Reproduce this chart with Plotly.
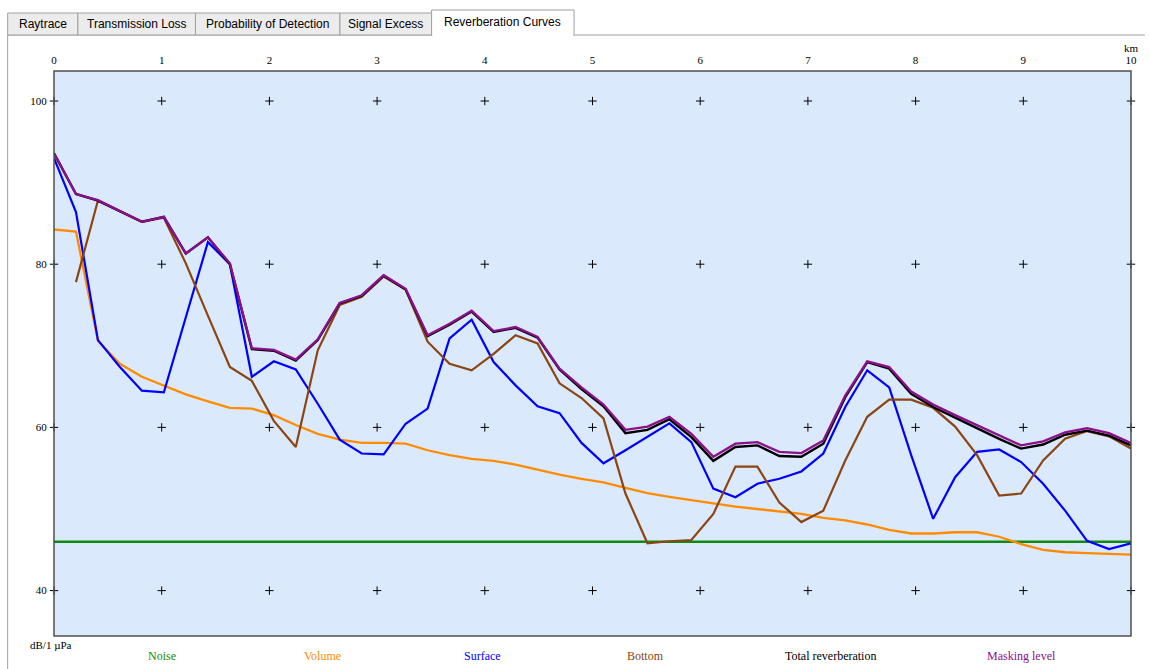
import plotly.graph_objects as go

# ---- data ----
range_km = [0.000, 0.204, 0.408, 0.612, 0.816, 1.020, 1.224, 1.429, 1.633, 1.837,
            2.041, 2.245, 2.449, 2.653, 2.857, 3.061, 3.265, 3.469, 3.673, 3.878,
            4.082, 4.286, 4.490, 4.694, 4.898, 5.102, 5.306, 5.510, 5.714, 5.918,
            6.122, 6.327, 6.531, 6.735, 6.939, 7.143, 7.347, 7.551, 7.755, 7.959,
            8.163, 8.367, 8.571, 8.776, 8.980, 9.184, 9.388, 9.592, 9.796, 10.000]

noise_km = [0.0, 10.0]
noise_db = [46.0, 46.0]

volume_db = [84.25, 84.0, 70.6, 67.8, 66.2, 65.1, 64.05, 63.2, 62.4, 62.3,
             61.5, 60.3, 59.2, 58.5, 58.1, 58.1, 58.0, 57.2, 56.6, 56.15,
             55.9, 55.45, 54.8, 54.2, 53.7, 53.25, 52.6, 51.95, 51.5, 51.1,
             50.7, 50.3, 50.0, 49.7, 49.4, 48.9, 48.6, 48.1, 47.45, 47.0,
             47.0, 47.15, 47.15, 46.6, 45.7, 45.0, 44.7, 44.6, 44.5, 44.4]

surface_db = [93.0, 86.4, 70.7, 67.4, 64.5, 64.3, 73.5, 82.7, 80.0, 66.2,
              68.1, 67.1, 62.9, 58.5, 56.8, 56.7, 60.45, 62.3, 70.9, 73.2,
              68.0, 65.15, 62.6, 61.75, 58.1, 55.6, 57.2, 58.8, 60.5, 58.2,
              52.5, 51.45, 53.1, 53.7, 54.6, 56.8, 62.5, 67.0, 64.9, 56.6,
              48.8, 53.9, 57.0, 57.3, 55.75, 53.1, 49.8, 46.1, 45.1, 45.8]

bottom_db = [None, 77.8, 87.8, 86.5, 85.2, 85.7, 80.1, 73.7, 67.4, 65.7,
             60.8, 57.6, 69.45, 75.0, 76.0, 78.5, 76.9, 70.5, 67.8, 67.0,
             69.0, 71.3, 70.3, 65.4, 63.6, 61.1, 51.9, 45.8, 46.05, 46.2,
             49.4, 55.2, 55.2, 50.8, 48.4, 49.8, 55.95, 61.3, 63.4, 63.4,
             62.4, 60.1, 56.6, 51.65, 51.9, 55.95, 58.6, 59.55, 58.9, 57.4]

total_db = [93.6, 88.6, 87.8, 86.5, 85.2, 85.8, 81.3, 83.3, 80.0, 69.6,
            69.4, 68.2, 70.7, 75.2, 76.1, 78.6, 76.9, 71.2, 72.6, 74.2,
            71.7, 72.2, 71.0, 67.1, 64.7, 62.6, 59.3, 59.7, 61.0, 58.8,
            55.9, 57.6, 57.8, 56.5, 56.4, 58.0, 63.7, 68.0, 67.2, 64.1,
            62.5, 61.2, 59.9, 58.6, 57.4, 57.9, 59.1, 59.6, 59.0, 57.8]

masking_db = [93.6, 88.6, 87.85, 86.5, 85.2, 85.8, 81.3, 83.3, 80.1, 69.7,
              69.5, 68.3, 70.8, 75.25, 76.2, 78.65, 77.0, 71.3, 72.7, 74.3,
              71.8, 72.3, 71.1, 67.2, 64.9, 62.8, 59.7, 60.1, 61.3, 59.2,
              56.4, 58.0, 58.2, 57.0, 56.85, 58.4, 63.9, 68.1, 67.4, 64.4,
              62.8, 61.5, 60.25, 59.0, 57.8, 58.3, 59.4, 59.9, 59.3, 58.1]

x_ticks = [0, 1, 2, 3, 4, 5, 6, 7, 8, 9, 10]
x_tick_labels = ["0", "1", "2", "3", "4", "5", "6", "7", "8", "9", "10"]
y_ticks = [40, 60, 80, 100]
y_tick_labels = ["40", "60", "80", "100"]

tab_labels = ["Raytrace", "Transmission Loss", "Probability of Detection",
              "Signal Excess", "Reverberation Curves"]
legend_labels = ["Noise", "Volume", "Surface", "Bottom", "Total reverberation", "Masking level"]

# ---- style ----
C_NOISE = "#108a10"
C_VOL = "#ff8c00"
C_SURF = "#0000ff"
C_BOT = "#8b4513"
C_TOT = "#000000"
C_MASK = "#8b108b"
legend_colors = [C_NOISE, C_VOL, C_SURF, C_BOT, "#000000", C_MASK]

W, H = 1149, 669
L, R, T, B = 54, 1135, 71, 636
Y_PER_DB = 8.16
Y100 = 101
y_top = 100 + (Y100 - T) / Y_PER_DB
y_bot = 100 - (B - Y100) / Y_PER_DB


def px(x):
    return (x - L) / (R - L)


def py(y):
    return (B - y) / (B - T)


fig = go.Figure()

# grid crosses
gx, gy = [], []
for xv in x_ticks:
    for yv in y_ticks:
        gx.append(xv)
        gy.append(yv)
fig.add_trace(go.Scatter(x=gx, y=gy, mode="markers", hoverinfo="skip",
                         marker=dict(symbol="cross-thin", size=6,
                                     line=dict(width=1, color="black")),
                         cliponaxis=False, showlegend=False))

fig.add_trace(go.Scatter(x=noise_km, y=noise_db, mode="lines", name="Noise",
                         line=dict(color=C_NOISE, width=2.5)))
fig.add_trace(go.Scatter(x=range_km, y=volume_db, mode="lines", name="Volume",
                         line=dict(color=C_VOL, width=2.3)))
fig.add_trace(go.Scatter(x=range_km, y=surface_db, mode="lines", name="Surface",
                         line=dict(color=C_SURF, width=2.2)))
fig.add_trace(go.Scatter(x=range_km, y=bottom_db, mode="lines", name="Bottom",
                         line=dict(color=C_BOT, width=2.2)))
fig.add_trace(go.Scatter(x=range_km, y=total_db, mode="lines", name="Total reverberation",
                         line=dict(color=C_TOT, width=2.4)))
fig.add_trace(go.Scatter(x=range_km, y=masking_db, mode="lines", name="Masking level",
                         line=dict(color=C_MASK, width=2.3)))

shapes = []
# panel border
shapes.append(dict(type="line", xref="paper", yref="paper", x0=px(7.5), x1=px(7.5),
                   y0=py(35), y1=py(669), line=dict(color="#a0a0a0", width=1), layer="below"))
shapes.append(dict(type="line", xref="paper", yref="paper", x0=px(7.5), x1=px(1149),
                   y0=py(35), y1=py(35), line=dict(color="#a0a0a0", width=1), layer="below"))

tab_edges = [7.5, 78, 196, 341, 433, 576]
for i, lab in enumerate(tab_labels):
    x0, x1 = tab_edges[i], tab_edges[i + 1]
    selected = (i == len(tab_labels) - 1)
    top = 10 if selected else 13
    fill = "#ffffff" if selected else "#ececec"
    shapes.append(dict(type="rect", xref="paper", yref="paper",
                       x0=px(x0), x1=px(x1), y0=py(35.5 if selected else 35), y1=py(top),
                       fillcolor=fill, line=dict(color="#a0a0a0", width=1), layer="below"))
    if selected:
        shapes.append(dict(type="line", xref="paper", yref="paper", x0=px(x0 + 0.7), x1=px(x1 - 0.7),
                           y0=py(35), y1=py(35), line=dict(color="#ffffff", width=2), layer="below"))

# plot frame
shapes.append(dict(type="rect", xref="paper", yref="paper", x0=0, x1=1, y0=0, y1=1,
                   line=dict(color="#505050", width=1.5), layer="above"))

annotations = []
for i, lab in enumerate(tab_labels):
    x0, x1 = tab_edges[i], tab_edges[i + 1]
    selected = (i == len(tab_labels) - 1)
    annotations.append(dict(text=lab, xref="paper", yref="paper", x=px((x0 + x1) / 2),
                            y=py(21.5 if selected else 24), showarrow=False,
                            xanchor="center", yanchor="middle",
                            font=dict(family="Liberation Sans, Arial", size=12, color="#000000")))

annotations.append(dict(text="km", xref="paper", yref="paper", x=px(1135), y=py(48),
                        showarrow=False, xanchor="center", yanchor="middle",
                        font=dict(family="Liberation Serif", size=11, color="black")))
annotations.append(dict(text="dB/1 µPa", xref="paper", yref="paper", x=px(28), y=py(645),
                        showarrow=False, xanchor="left", yanchor="middle",
                        font=dict(family="Liberation Serif", size=11, color="black")))

legend_x = [162, 323, 484, 648, 833, 1025]
for lab, col, lx in zip(legend_labels, legend_colors, legend_x):
    annotations.append(dict(text=lab, xref="paper", yref="paper", x=px(lx), y=py(656),
                            showarrow=False, xanchor="center", yanchor="middle",
                            font=dict(family="Liberation Serif", size=12, color=col)))

fig.update_layout(
    width=W, height=H,
    margin=dict(l=L, r=W - R, t=T, b=H - B, pad=0),
    paper_bgcolor="white",
    plot_bgcolor="#dbe9fc",
    showlegend=False,
    shapes=shapes,
    annotations=annotations,
    xaxis=dict(range=[0, 10], side="top", tickvals=x_ticks, ticktext=x_tick_labels,
               ticks="outside", ticklen=2, tickcolor="rgba(0,0,0,0)",
               showgrid=False, zeroline=False, showline=False,
               tickfont=dict(family="Liberation Serif", size=11, color="black"),
               fixedrange=True),
    yaxis=dict(range=[y_bot, y_top], tickvals=y_ticks, ticktext=y_tick_labels,
               ticks="outside", ticklen=4, tickcolor="rgba(0,0,0,0)",
               showgrid=False, zeroline=False, showline=False,
               tickfont=dict(family="Liberation Serif", size=11, color="black"),
               fixedrange=True),
)

fig.write_html("out.html", config={"displayModeBar": False},
               post_script="document.body.style.margin='0px';")
